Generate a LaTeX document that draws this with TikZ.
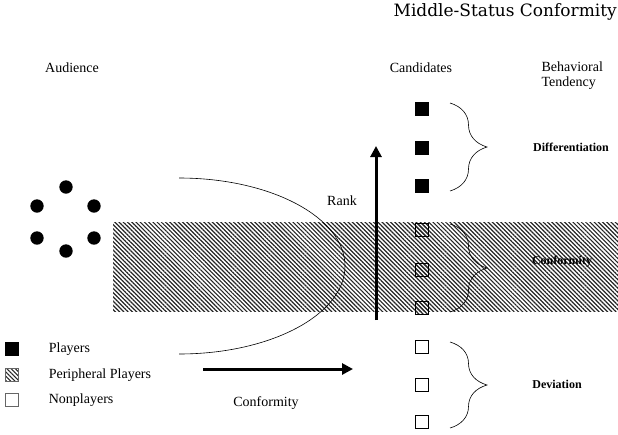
\documentclass[tikz,border=0pt]{standalone}
\usepackage{fontspec}
\newfontfamily\timesfont{Liberation Serif}
\newfontfamily\titlefont{DejaVu Serif}
\usetikzlibrary{arrows.meta,decorations.pathreplacing,patterns.meta,positioning}
\tikzset{
  hatch/.style={pattern={Lines[angle=-45,distance=3pt,line width=1.2pt]}, pattern color=black!85},
  sq/.style={draw, minimum size=13pt, inner sep=0pt, line width=0.6pt},
  player/.style={sq, fill=black},
  periph/.style={sq, hatch},
  nonplayer/.style={sq, fill=white},
  dot/.style={circle, fill=black, minimum size=13.4pt, inner sep=0pt},
  lbl/.style={font=\timesfont\fontsize{14}{15}\selectfont},
  tend/.style={font=\timesfont\bfseries\fontsize{12}{13}\selectfont},
  brc/.style={decorate, decoration={brace, amplitude=37pt, aspect=0.5}, line width=0.6pt},
  bigarrow/.style={line width=3pt, -{Triangle[length=11pt,width=11pt]}}
}
\begin{document}
\begin{tikzpicture}[x=1pt,y=-1pt]
        \useasboundingbox (0,0) rectangle (618,434);

        % peripheral band
        \fill[hatch] (113,222) rectangle (618,311);

        \node[anchor=east, inner sep=0pt, font=\titlefont\fontsize{17}{19}\selectfont] (title) at (617,12) {Middle-Status Conformity};
        \node[lbl] (aud) at (72,68) {Audience};
        \node[lbl] (cand) at (421,68) {Candidates};
        \node[lbl, align=left, anchor=west] (tendency) at (538,76) {Behavioral\\Tendency};

        % audience
        \foreach \x/\y [count=\i] in {66/187,37/206,94/206,37/238,94/238,66/251}
            \node[dot] (a\i) at (\x,\y) {};

        \coordinate (c1) at (179,178);
        \draw[line width=0.6pt] (c1) arc[start angle=-90, end angle=90, x radius=166, y radius=88];

        % rank and conformity arrows
        \coordinate (r0) at (376,320);
        \coordinate (r1) at (376,146);
        \draw[bigarrow] (r0) -- (r1);
        \node[lbl] (rank) at (342,201) {Rank};

        \coordinate (k0) at (203,369);
        \coordinate (k1) at (353,369);
        \draw[bigarrow] (k0) -- (k1);
        \node[lbl] (conformity) at (266,403) {Conformity};

        % candidates
        \foreach \y [count=\i] in {109,147.5,186}
            \node[player] (pl\i) at (422,\y) {};
        \foreach \y [count=\i] in {230,270,308}
            \node[periph] (pp\i) at (422,\y) {};
        \foreach \y [count=\i] in {347,385,422}
            \node[nonplayer] (np\i) at (422,\y) {};

        \draw[brc] (450,103) -- (450,191);
        \draw[brc] (450,224) -- (450,312);
        \draw[brc] (450,342) -- (450,428);

        \node[tend] (diff) at (571,147) {Differentiation};
        \node[tend] (conf) at (562,262) {Conformity};
        \node[tend] (dev) at (557,384) {Deviation};

        % legend
        \node[player] (lg1) at (11.5,349) {};
        \node[periph, draw=black!60] (lg2) at (11.5,375) {};
        \node[nonplayer, draw=black!60] (lg3) at (11.5,400) {};
        \node[lbl, right=27pt of lg1] (lgt1) {Players};
        \node[lbl, right=27pt of lg2] (lgt2) {Peripheral Players};
        \node[lbl, right=27pt of lg3] (lgt3) {Nonplayers};
\end{tikzpicture}
\end{document}
